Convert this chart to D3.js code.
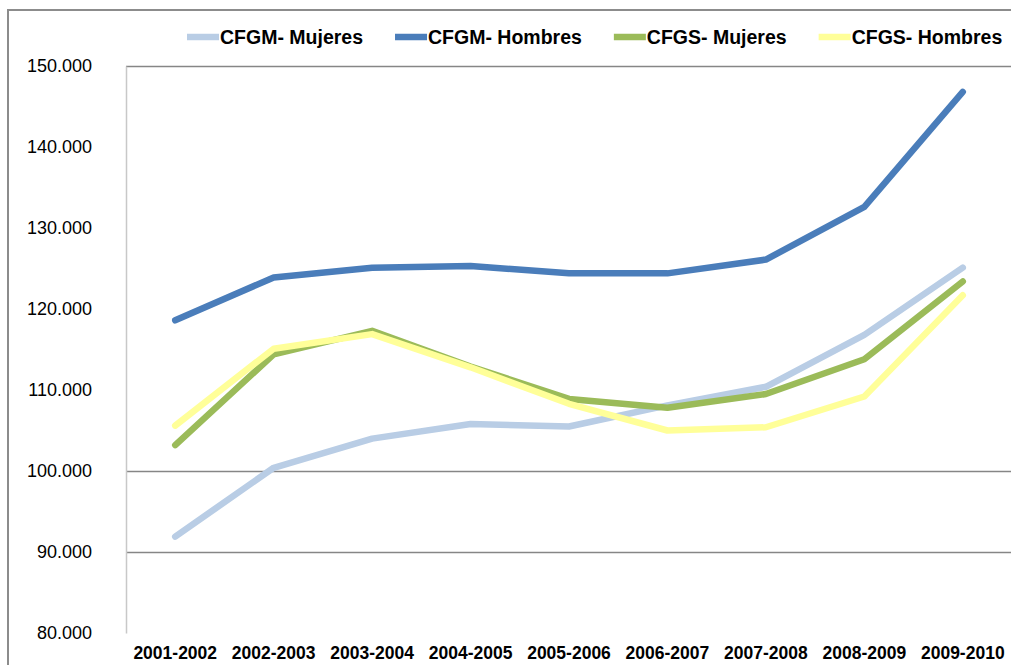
<!DOCTYPE html>
<html>
<head>
<meta charset="utf-8">
<script src="https://cdn.jsdelivr.net/npm/d3@7"></script>
<style>
  body { margin: 0; background: #fff; }
  svg { display: block; font-family: "Liberation Sans", Arial, sans-serif; }
</style>
</head>
<body>
<div id="graph01"></div>
<script>
// データ
const cursos = ["2001-2002", "2002-2003", "2003-2004", "2004-2005", "2005-2006",
                "2006-2007", "2007-2008", "2008-2009", "2009-2010"];
const cfgmMujeres = [91900, 100400, 104000, 105800, 105500, 108100, 110400, 116800, 125100];
const cfgmHombres = [118600, 123900, 125100, 125300, 124400, 124400, 126100, 132600, 146800];
const cfgsMujeres = [103200, 114400, 117300, 112900, 108900, 107800, 109500, 113800, 123400];
const cfgsHombres = [105600, 115100, 116900, 112800, 108300, 105000, 105400, 109200, 121700];
const yTicks = [80000, 90000, 100000, 110000, 120000, 130000, 140000, 150000];
const gridValues = [90000, 100000, 150000];

const series = [
  { name: "CFGM- Mujeres", values: cfgmMujeres, color: "#B9CDE5" },
  { name: "CFGM- Hombres", values: cfgmHombres, color: "#4A7DBA" },
  { name: "CFGS- Mujeres", values: cfgsMujeres, color: "#9BBB59" },
  { name: "CFGS- Hombres", values: cfgsHombres, color: "#FFFF99" }
];

const width = 1011, height = 665;
const svg = d3.select("#graph01").append("svg")
  .attr("width", width).attr("height", height);

// 外枠
svg.append("path")
  .attr("d", "M8,665 L8,10 L1011,10")
  .attr("fill", "none").attr("stroke", "#8C8C8C").attr("stroke-width", 2);

// スケール
const x = d3.scaleBand().domain(cursos).range([126, 1012]);
const y = d3.scaleLinear().domain([80000, 150000]).range([633, 66]);

const es = d3.formatLocale({ decimal: ",", thousands: ".", grouping: [3], currency: ["", "€"] });
const fmt = es.format(",.0f");

// グリッド線
svg.append("g").selectAll("line")
  .data(gridValues).join("line")
  .attr("x1", 126).attr("x2", width)
  .attr("y1", d => Math.round(y(d)) + 0.5).attr("y2", d => Math.round(y(d)) + 0.5)
  .attr("stroke", "#868686").attr("stroke-width", 1.5);

// Y軸
const yAxis = svg.append("g")
  .attr("transform", "translate(126,0)")
  .call(d3.axisLeft(y).tickValues(yTicks).tickFormat(fmt).tickSize(0).tickPadding(34));
yAxis.select(".domain").attr("stroke", "#C8C8C8").attr("stroke-width", 1.5);
yAxis.selectAll("text")
  .attr("font-size", 18).attr("fill", "#000")
  .style("font-family", "'Liberation Sans', Arial, sans-serif");

// X軸
const xAxis = svg.append("g")
  .attr("transform", "translate(0,633)")
  .call(d3.axisBottom(x).tickSize(0).tickPadding(14));
xAxis.select(".domain").remove();
xAxis.selectAll("text")
  .attr("font-size", 17.5).attr("font-weight", "bold").attr("fill", "#000")
  .style("font-family", "'Liberation Sans', Arial, sans-serif");

// 折れ線
const line = d3.line()
  .x((d, i) => x(cursos[i]) + x.bandwidth() / 2)
  .y(d => y(d));

svg.append("g").selectAll("path")
  .data(series).join("path")
  .attr("fill", "none")
  .attr("stroke", d => d.color)
  .attr("stroke-width", 6.5)
  .attr("stroke-linejoin", "round")
  .attr("stroke-linecap", "round")
  .attr("d", d => line(d.values));

// 凡例
const legend = svg.append("g");
let lx = 187;
series.forEach(s => {
  legend.append("line")
    .attr("x1", lx).attr("x2", lx + 32)
    .attr("y1", 37).attr("y2", 37)
    .attr("stroke", s.color).attr("stroke-width", 6.5);
  const t = legend.append("text")
    .attr("x", lx + 33).attr("y", 44)
    .attr("font-size", 19.5).attr("font-weight", "bold").attr("fill", "#000")
    .text(s.name);
  lx += 33 + t.node().getComputedTextLength() + 32;
});
</script>
</body>
</html>
